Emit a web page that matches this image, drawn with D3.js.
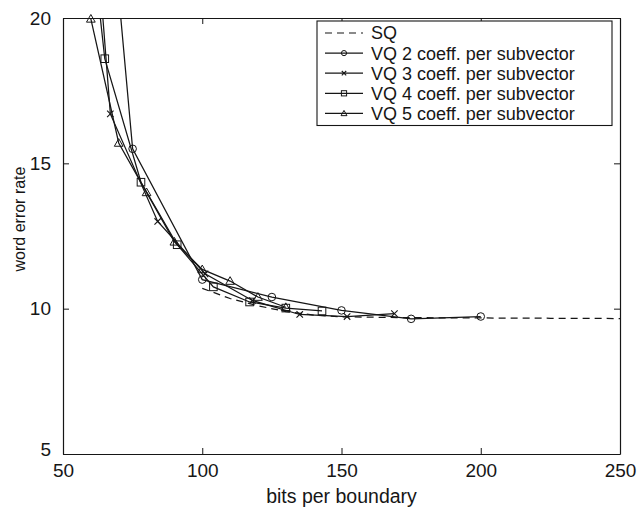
<!DOCTYPE html>
<html>
<head>
<meta charset="utf-8">
<script src="https://cdn.jsdelivr.net/npm/d3@7"></script>
<style>
  html, body { margin: 0; padding: 0; background: #fff; }
  svg { display: block; font-family: "Liberation Sans", Arial, Helvetica, sans-serif; }
</style>
</head>
<body>
<svg id="chart" width="637" height="510"></svg>
<script>
// Word error rate against bit budget per boundary, scalar vs. vector quantisation
const xTicks = [50, 100, 150, 200, 250];
const yTicks = [5, 10, 15, 20];

const sqBits = [100, 110, 120, 130, 140, 150, 175, 200, 225, 250];
const sqWer  = [10.7, 10.35, 10.1, 9.9, 9.78, 9.72, 9.69, 9.68, 9.67, 9.66];

const vq2Bits = [50, 75, 100, 125, 150, 175, 200];
const vq2Wer  = [42, 15.5, 11.0, 10.4, 9.94, 9.65, 9.73];

const vq3Bits = [50, 67, 84, 101, 118, 135, 152, 169];
const vq3Wer  = [37.6, 16.7, 13.0, 11.2, 10.28, 9.8, 9.73, 9.83];

const vq4Bits = [52, 65, 78, 91, 104, 117, 130, 143];
const vq4Wer  = [30, 18.6, 14.35, 12.2, 10.75, 10.23, 10.02, 9.92];

const vq5Bits = [60, 70, 80, 90, 100, 110, 120, 130];
const vq5Wer  = [19.97, 15.7, 14.0, 12.3, 11.35, 10.95, 10.4, 10.05];

const seriesNames = [
  "SQ",
  "VQ 2 coeff. per subvector",
  "VQ 3 coeff. per subvector",
  "VQ 4 coeff. per subvector",
  "VQ 5 coeff. per subvector"
];

const series = [
  { name: seriesNames[0], bits: sqBits,  wer: sqWer,  marker: null,       dashed: true },
  { name: seriesNames[1], bits: vq2Bits, wer: vq2Wer, marker: "circle",   dashed: false },
  { name: seriesNames[2], bits: vq3Bits, wer: vq3Wer, marker: "cross",    dashed: false },
  { name: seriesNames[3], bits: vq4Bits, wer: vq4Wer, marker: "square",   dashed: false },
  { name: seriesNames[4], bits: vq5Bits, wer: vq5Wer, marker: "triangle", dashed: false }
];

const margin = { left: 63, right: 17, top: 18, bottom: 56 };
const W = 637, H = 510;
const svg = d3.select("#chart");

const x = d3.scaleLinear().domain([50, 250]).range([margin.left, W - margin.right]);
const y = d3.scaleLinear().domain([5, 20]).range([H - margin.bottom, margin.top]);

const ink = "#161616";
const tickLen = 6;
const tickFont = 19;

// clip the curves to the axes box
svg.append("defs").append("clipPath").attr("id", "plotClip")
  .append("rect")
  .attr("x", x(50)).attr("y", y(20))
  .attr("width", x(250) - x(50)).attr("height", y(5) - y(20));

// axes with inward ticks on all four sides
const axisBottom = d3.axisBottom(x).tickValues(xTicks).tickSizeInner(-tickLen).tickSizeOuter(0).tickPadding(10);
const axisTop = d3.axisTop(x).tickValues(xTicks).tickSizeInner(-tickLen).tickSizeOuter(0).tickFormat("");
const axisLeft = d3.axisLeft(y).tickValues(yTicks).tickSizeInner(-tickLen).tickSizeOuter(0).tickPadding(12);
const axisRight = d3.axisRight(y).tickValues(yTicks).tickSizeInner(-tickLen).tickSizeOuter(0).tickFormat("");

function styleAxis(g) {
  g.select(".domain").attr("stroke", ink).attr("stroke-width", 1.2);
  g.selectAll(".tick line").attr("stroke", ink).attr("stroke-width", 1);
  g.selectAll(".tick text").attr("fill", ink).attr("font-size", tickFont)
    .attr("font-family", "Liberation Sans, Arial, sans-serif");
}

svg.append("g").attr("transform", `translate(0,${y(5)})`).call(axisBottom).call(styleAxis);
svg.append("g").attr("transform", `translate(0,${y(20)})`).call(axisTop).call(styleAxis);
svg.append("g").attr("transform", `translate(${x(50)},0)`).call(axisLeft).call(styleAxis);
svg.append("g").attr("transform", `translate(${x(250)},0)`).call(axisRight).call(styleAxis);

// the lowest y label sits just above the first x label in the corner
svg.selectAll(".tick text").filter(d => d === 5).attr("dy", "0.1em");

// axis titles
svg.append("text")
  .attr("x", (x(50) + x(250)) / 2).attr("y", 503)
  .attr("text-anchor", "middle").attr("font-size", 19.5).attr("fill", ink)
  .text("bits per boundary");

svg.append("text")
  .attr("transform", "translate(25,219) rotate(-90)")
  .attr("text-anchor", "middle").attr("font-size", 16).attr("fill", ink)
  .text("word error rate");

// markers
function drawMarker(g, type, cx, cy, s) {
  if (type === "circle") {
    g.append("circle").attr("cx", cx).attr("cy", cy).attr("r", s)
      .attr("fill", "none").attr("stroke", ink).attr("stroke-width", 1);
  } else if (type === "square") {
    g.append("rect").attr("x", cx - s).attr("y", cy - s)
      .attr("width", 2 * s).attr("height", 2 * s)
      .attr("fill", "none").attr("stroke", ink).attr("stroke-width", 1);
  } else if (type === "triangle") {
    const h = s * 1.15;
    g.append("path")
      .attr("d", `M${cx},${cy - h}L${cx + h},${cy + h * 0.75}L${cx - h},${cy + h * 0.75}Z`)
      .attr("fill", "none").attr("stroke", ink).attr("stroke-width", 1);
  } else if (type === "cross") {
    const c = s * 0.85;
    g.append("path")
      .attr("d", `M${cx - c},${cy - c}L${cx + c},${cy + c}M${cx - c},${cy + c}L${cx + c},${cy - c}`)
      .attr("fill", "none").attr("stroke", ink).attr("stroke-width", 1.1);
  }
}

const line = d3.line().x(d => x(d[0])).y(d => y(d[1]));
const plot = svg.append("g");

series.forEach(s => {
  const pts = s.bits.map((b, i) => [b, s.wer[i]]);
  plot.append("path")
    .attr("clip-path", "url(#plotClip)")
    .attr("d", line(pts))
    .attr("fill", "none").attr("stroke", ink).attr("stroke-width", 1.25)
    .attr("stroke-dasharray", s.dashed ? "7,5" : null);
  if (s.marker) {
    pts.filter(p => p[1] <= 20 && p[1] >= 5).forEach(p => drawMarker(plot, s.marker, x(p[0]), y(p[1]), 3.8));
  }
});

// legend
const lg = svg.append("g");
const lgX = 317, lgY = 21, lgW = 295, rowH = 20.1, lgH = 5 * rowH + 4;
lg.append("rect").attr("x", lgX).attr("y", lgY).attr("width", lgW).attr("height", lgH)
  .attr("fill", "#fff").attr("stroke", ink).attr("stroke-width", 1.1);

series.forEach((s, i) => {
  const cy = lgY + 12 + i * rowH;
  lg.append("line").attr("x1", lgX + 8).attr("x2", lgX + 46).attr("y1", cy).attr("y2", cy)
    .attr("stroke", ink).attr("stroke-width", 1.2)
    .attr("stroke-dasharray", s.dashed ? "7,5" : null);
  if (s.marker) drawMarker(lg, s.marker, lgX + 27, cy, 2.6);
  lg.append("text").attr("x", lgX + 54).attr("y", cy).attr("dy", "0.36em")
    .attr("font-size", 18).attr("fill", ink).text(s.name);
});
</script>
</body>
</html>
